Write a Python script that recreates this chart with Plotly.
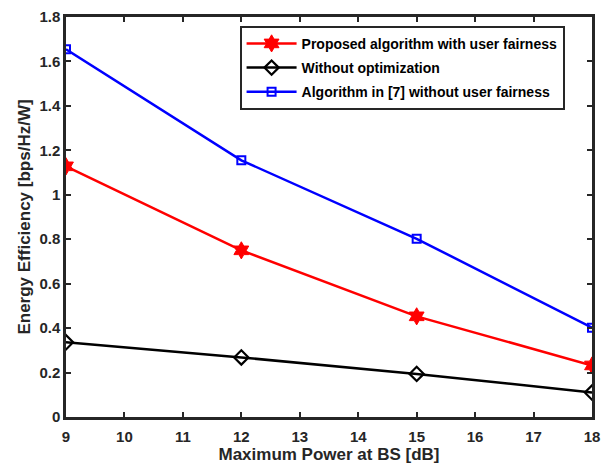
import plotly.graph_objects as go

x_power = [9, 12, 15, 18]
proposed = [1.128, 0.750, 0.453, 0.232]
without_opt = [0.336, 0.268, 0.194, 0.110]
alg7 = [1.655, 1.155, 0.802, 0.402]

names = ["Proposed algorithm with user fairness",
         "Without optimization",
         "Algorithm in [7] without user fairness"]
y_ticks = [0, 0.2, 0.4, 0.6, 0.8, 1, 1.2, 1.4, 1.6, 1.8]
x_ticks = [9, 10, 11, 12, 13, 14, 15, 16, 17, 18]

FONT = "Liberation Sans"
AX = "#262626"

fig = go.Figure()
fig.add_trace(go.Scatter(x=x_power, y=proposed, name="<b>" + names[0] + "</b>",
                         mode="lines+markers", legendgroup="a",
                         line=dict(color="#ff0000", width=2.5),
                         marker=dict(symbol="hexagram", size=13, color="#ff0000",
                                     line=dict(color="#ff0000", width=1))))
fig.add_trace(go.Scatter(x=x_power, y=without_opt, name="<b>" + names[1] + "</b>",
                         mode="lines+markers", legendgroup="b",
                         line=dict(color="#000000", width=2.5),
                         marker=dict(symbol="diamond-open", size=11, color="#000000",
                                     line=dict(color="#000000", width=2.2))))
fig.add_trace(go.Scatter(x=x_power, y=alg7, name="<b>" + names[2] + "</b>",
                         mode="lines+markers", legendgroup="c",
                         line=dict(color="#0000ff", width=2.5),
                         marker=dict(symbol="square-open", size=8, color="#0000ff",
                                     line=dict(color="#0000ff", width=2))))

axis_common = dict(showline=True, linecolor=AX, linewidth=2.5, mirror="allticks",
                   ticks="inside", ticklen=5, tickwidth=2, tickcolor=AX,
                   showgrid=False, zeroline=False,
                   tickfont=dict(family=FONT, size=15, color=AX))

fig.update_xaxes(range=[9, 18], tickvals=x_ticks,
                 ticktext=["<b>%g</b>" % v for v in x_ticks],
                 ticklabelstandoff=4,
                 title=dict(text="<b>Maximum Power at BS [dB]</b>", standoff=3,
                            font=dict(family=FONT, size=17, color=AX)),
                 **axis_common)
fig.update_yaxes(range=[0, 1.8], tickvals=y_ticks,
                 ticktext=["<b>%g</b>" % v for v in y_ticks],
                 title=dict(text="<b>Energy Efficiency [bps/Hz/W]</b>", standoff=5,
                            font=dict(family=FONT, size=17, color=AX)),
                 **axis_common)

fig.update_layout(
    width=608, height=470,
    margin=dict(l=66, r=11, t=8, b=53),
    plot_bgcolor="white", paper_bgcolor="white",
    font=dict(family=FONT, color="black"),
    legend=dict(x=0.33, y=0.978, xanchor="left", yanchor="top",
                bgcolor="white", bordercolor="#262626", borderwidth=2,
                font=dict(family=FONT, size=14, color="black"),
                tracegroupgap=3, itemwidth=50),
)

fig.write_html("out.html")
